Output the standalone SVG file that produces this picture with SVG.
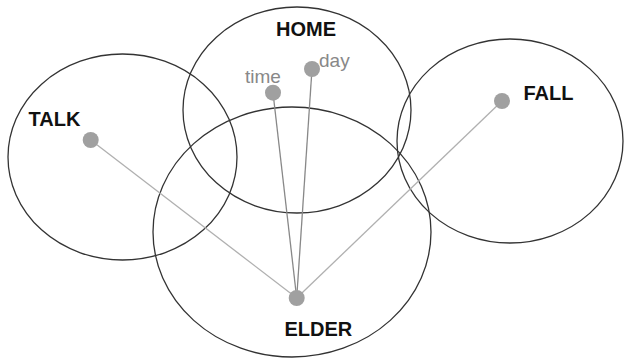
<svg xmlns="http://www.w3.org/2000/svg" width="624" height="358" viewBox="0 0 624 358">
<style>
.ring{fill:none;stroke:#333;stroke-width:1.3}
.dot{fill:#a0a0a0}
.lbl{font-family:"Liberation Sans",Arial,sans-serif;font-weight:bold;font-size:20px;fill:#111}
.sub{font-family:"Liberation Sans",Arial,sans-serif;font-size:19px;fill:#888}
.lt{stroke:#b0b0b0;stroke-width:1.3}
.dk{stroke:#888;stroke-width:1.3}
</style>
<rect width="624" height="358" fill="#fff"/>
<g id="rings">
<ellipse class="ring" cx="297" cy="110" rx="114" ry="103"/>
<ellipse class="ring" cx="122.5" cy="157" rx="114.5" ry="103"/>
<ellipse class="ring" cx="510" cy="141" rx="113" ry="102"/>
<ellipse class="ring" cx="292" cy="232" rx="139" ry="125"/>
</g>
<g id="connectors">
<line class="lt" x1="90.7" y1="140" x2="296.7" y2="298"/>
<line class="lt" x1="502" y1="101" x2="296.7" y2="298"/>
<line class="dk" x1="273" y1="92.7" x2="296.7" y2="298"/>
<line class="dk" x1="312" y1="69" x2="296.7" y2="298"/>
</g>
<g id="home"><text class="lbl" x="276" y="36">HOME</text></g>
<g id="talk"><circle class="dot" cx="90.7" cy="140" r="8"/><text class="lbl" x="28.5" y="126">TALK</text></g>
<g id="fall"><circle class="dot" cx="502" cy="101" r="8"/><text class="lbl" x="523.5" y="100">FALL</text></g>
<g id="elder"><circle class="dot" cx="296.7" cy="298" r="8"/><text class="lbl" x="284.5" y="335.5">ELDER</text></g>
<g id="time"><circle class="dot" cx="273" cy="92.7" r="8"/><text class="sub" x="245" y="83">time</text></g>
<g id="day"><circle class="dot" cx="312" cy="69" r="8"/><text class="sub" x="319" y="66.5">day</text></g>
</svg>
